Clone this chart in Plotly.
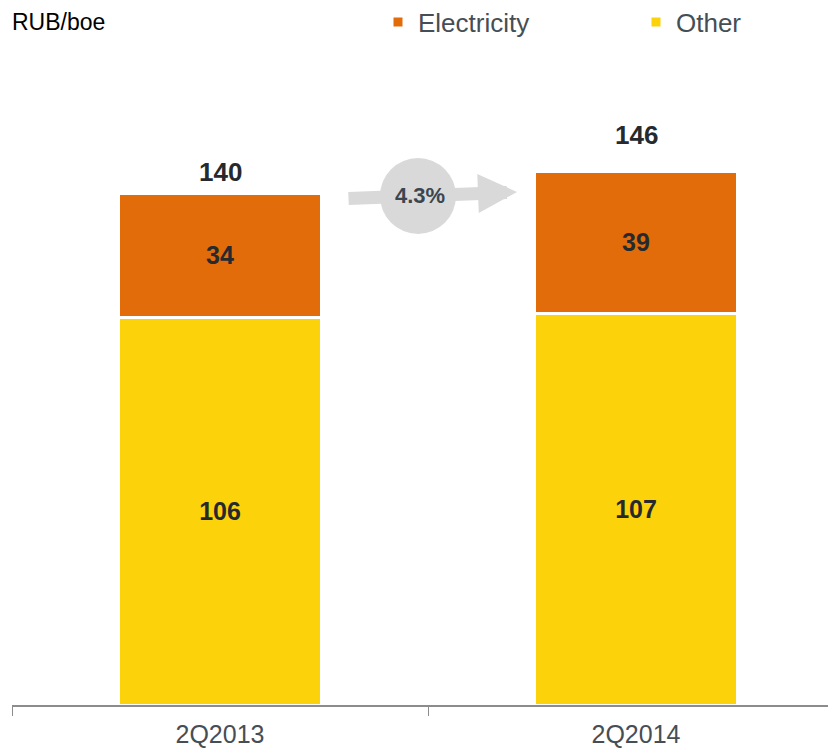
import plotly.graph_objects as go

categories = ["2Q2013", "2Q2014"]
other = [106, 107]
electricity = [34, 39]
change_label = "4.3%"
unit_label = "RUB/boe"

totals = [o + e for o, e in zip(other, electricity)]

ORANGE = "#E36C0A"
YELLOW = "#FCD20A"
GREY_TXT = "#464E55"
DARK = "#262A2E"
FONT = "Liberation Sans, Arial"

OFF = 8  # page body margin
W, H = 836 - OFF, 752 - OFF
ML, MR, MT, MB = 12 - OFF, 0, 60 - OFF, 47
plot_w = W - ML - MR
plot_h = H - MT - MB
px_per_cat = 416
px_per_unit = 512 / 140


def x_of(px):  # reference screen px -> data x
    return (px - 12) / px_per_cat - 0.5


def y_of(py):  # reference screen px -> data y
    return (705 - py) / px_per_unit


def cx(px):  # reference screen px -> container x
    return (px - OFF) / W


def cy(py):  # reference screen px -> container y
    return 1 - (py - OFF) / H


bar_font = dict(family=FONT, size=25, color=DARK, weight="bold")

fig = go.Figure()
fig.add_trace(go.Bar(
    x=categories, y=other, name="Other",
    marker=dict(color=YELLOW, line=dict(color="white", width=3)),
    text=[str(v) for v in other], textposition="inside",
    insidetextanchor="middle", textangle=0, textfont=bar_font,
    width=0.49, legend="legend2", hoverinfo="skip",
))
fig.add_trace(go.Bar(
    x=categories, y=electricity, name="Electricity",
    marker=dict(color=ORANGE, line=dict(color="white", width=3)),
    text=[str(v) for v in electricity], textposition="inside",
    insidetextanchor="middle", textangle=0, textfont=bar_font,
    width=0.49, legend="legend", hoverinfo="skip",
))

total_shift = [21, 36]
annotations = []
for i, t in enumerate(totals):
    annotations.append(dict(
        x=i, y=t, xref="x", yref="y", text=f"<b>{t}</b>", showarrow=False,
        yanchor="middle", yshift=total_shift[i],
        font=dict(family=FONT, size=26, color=DARK),
    ))

# growth arrow between bars
annotations.append(dict(
    x=x_of(517), y=y_of(192), ax=x_of(347), ay=y_of(198.5),
    xref="x", yref="y", axref="x", ayref="y", text="",
    showarrow=True, arrowhead=2, arrowwidth=13, arrowsize=0.6,
    arrowcolor="#D9D9D9", standoff=0, startstandoff=0,
))
annotations.append(dict(
    x=x_of(420), y=y_of(195), xref="x", yref="y",
    text=f"<b>{change_label}</b>", showarrow=False,
    font=dict(family=FONT, size=22, color="#3B4650"),
))
annotations.append(dict(
    x=(10 - 12) / plot_w, y=(705 - 22) / plot_h, xref="paper", yref="paper",
    xanchor="left", yanchor="middle", text=unit_label, showarrow=False,
    font=dict(family=FONT, size=23, color="black"),
))

shapes = [dict(
    type="circle", xref="x", yref="y", xsizemode="pixel", ysizemode="pixel",
    xanchor=x_of(418), yanchor=y_of(196),
    x0=-38, x1=38, y0=-38, y1=38,
    fillcolor="#D9D9D9", line=dict(width=0), layer="above",
)]

leg_font = dict(family=FONT, size=26, color=GREY_TXT)

fig.update_layout(
    width=W, height=H,
    margin=dict(l=ML, r=MR, t=MT, b=MB, pad=0, autoexpand=False),
    paper_bgcolor="white", plot_bgcolor="white",
    barmode="stack",
    showlegend=True,
    legend=dict(x=cx(378), y=cy(22), xref="container", yref="container",
                xanchor="left", yanchor="middle",
                font=leg_font, bgcolor="rgba(0,0,0,0)", borderwidth=0),
    legend2=dict(x=cx(636), y=cy(22), xref="container", yref="container",
                 xanchor="left", yanchor="middle",
                 font=leg_font, bgcolor="rgba(0,0,0,0)", borderwidth=0),
    xaxis=dict(
        type="category", range=[-0.5, -0.5 + plot_w / px_per_cat],
        showline=True, linecolor="#8C8C8C", linewidth=2,
        ticks="outside", tickson="boundaries", ticklen=9, tickcolor="#8C8C8C", tickwidth=1,
        ticklabelstandoff=6,
        tickfont=dict(family=FONT, size=25, color=GREY_TXT),
        showgrid=False, zeroline=False, automargin=False, fixedrange=True,
    ),
    yaxis=dict(
        range=[0, plot_h / px_per_unit], visible=False, showgrid=False,
        zeroline=False, automargin=False, fixedrange=True,
    ),
    annotations=annotations,
    shapes=shapes,
)

fig.write_html("out.html")
